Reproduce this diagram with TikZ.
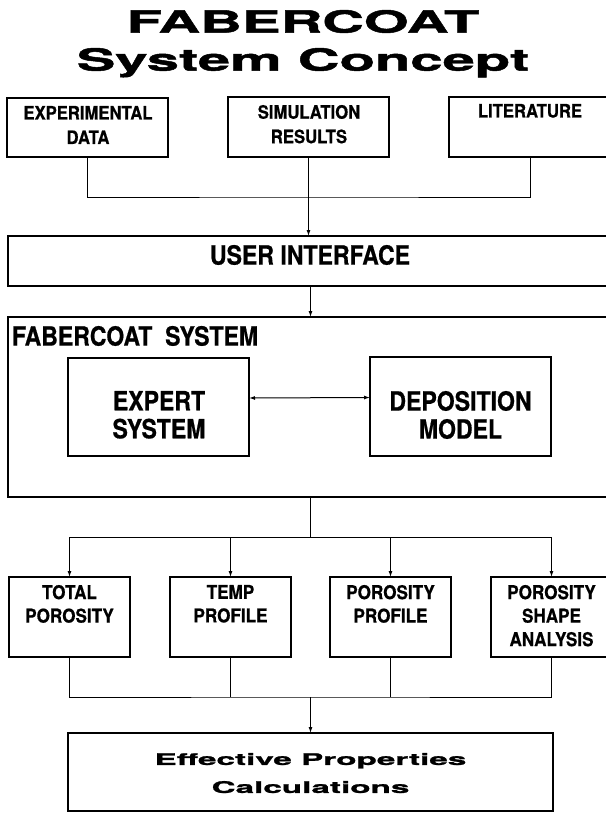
\documentclass[tikz,border=0pt]{standalone}
\usepackage{fontspec}
\usetikzlibrary{arrows.meta}
\newfontfamily\boxfont{TeX Gyre Heros}[FakeStretch=0.87, FakeBold=0.6]
\newfontfamily\smallfont{TeX Gyre Heros}[FakeStretch=0.9, FakeBold=0.6]
\newfontfamily\widefont{TeX Gyre Heros}[FakeStretch=1.9, FakeBold=1.6]
\newfontfamily\effont{TeX Gyre Heros}[FakeStretch=2.08, FakeBold=1.4]
\tikzset{
  box/.style={draw, line width=1.3pt, inner sep=0pt, outer sep=0pt, anchor=north west},
  lbl/.style={inner sep=0pt, outer sep=0pt, anchor=north, align=center},
  small/.style={lbl, font=\smallfont\bfseries\fontsize{18.5}{24.5}\selectfont},
  large/.style={lbl, font=\boxfont\bfseries\fontsize{26.5}{28}\selectfont},
  lowr/.style={lbl, font=\smallfont\bfseries\fontsize{19}{23.5}\selectfont},
  conn/.style={line width=1pt},
  arr/.style={conn, -{Latex[length=6pt,width=4pt]}},
  darr/.style={conn, {Latex[length=6pt,width=4pt]}-{Latex[length=6pt,width=4pt]}}
}
\begin{document}
\begin{tikzpicture}[x=1pt, y=-1pt]
\useasboundingbox (0,0) rectangle (605,813);
\fill[white] (0,0) rectangle (605,813);

% title
\node[lbl, font=\widefont\bfseries\fontsize{30.5}{38}\selectfont] (title) at (303,10) {FABERCOAT\\System Concept};

% sources
\node[box, minimum width=161pt, minimum height=59pt] (exp) at (7,98) {};
\node[box, minimum width=161pt, minimum height=60pt] (sim) at (228,97) {};
\node[box, minimum width=162pt, minimum height=60pt] (lit) at (449,97) {};
\node[small] (texp) at (88,106) {EXPERIMENTAL\\DATA};
\node[small] (tsim) at (309,105) {SIMULATION\\RESULTS};
\node[small] (tlit) at (530,104) {LITERATURE};

% user interface
\node[box, minimum width=605pt, minimum height=50pt] (ui) at (8,236) {};
\node[large] (tui) at (310,245) {USER INTERFACE};

% fabercoat system
\node[box, minimum width=605pt, minimum height=180pt] (sys) at (8,317) {};
\node[large, anchor=north west] (tsys) at (12,326) {FABERCOAT\ \ SYSTEM};
\node[box, minimum width=181pt, minimum height=98pt] (xp) at (68,358) {};
\node[box, minimum width=181pt, minimum height=99pt] (dep) at (370,357) {};
\node[large] (txp) at (159,391) {EXPERT\\SYSTEM};
\node[large] (tdep) at (460.5,391) {DEPOSITION\\MODEL};

% results
\node[box, minimum width=121pt, minimum height=80pt] (tot) at (9,577) {};
\node[box, minimum width=121pt, minimum height=80pt] (tmp) at (170,577) {};
\node[box, minimum width=121pt, minimum height=80pt] (pp) at (330,577) {};
\node[box, minimum width=121pt, minimum height=80pt] (shp) at (491,577) {};
\node[lowr] (ttot) at (69.5,585) {TOTAL\\POROSITY};
\node[lowr] (ttmp) at (230.5,585) {TEMP\\PROFILE};
\node[lowr] (tpp) at (390.5,585) {POROSITY\\PROFILE};
\node[lowr] (tshp) at (551.5,585) {POROSITY\\SHAPE\\ANALYSIS};

% effective properties
\node[box, minimum width=485pt, minimum height=78pt] (eff) at (68,733) {};
\node[lbl, font=\effont\bfseries\fontsize{16}{28}\selectfont] (teff) at (310.5,753) {Effective Properties\\Calculations};

% connectors
\coordinate (jt) at (309,197);
\coordinate (br) at (310.5,537);
\coordinate (bj) at (310.5,697);
\draw[conn] (exp.south) |- (jt) -| (lit.south);
\draw[arr] (sim.south) -- (sim.south |- ui.north);
\draw[arr] (ui.south) -- (sys.north);
\draw[darr] ([yshift=9pt]xp.east) -- ([yshift=9pt]dep.west);
\draw[conn] (sys.south) -- (br);
\draw[conn] (tot.north |- br) -- (shp.north |- br);
\draw[arr] (tot.north |- br) -- (tot.north);
\draw[arr] (tmp.north |- br) -- (tmp.north);
\draw[arr] (pp.north |- br) -- (pp.north);
\draw[arr] (shp.north |- br) -- (shp.north);
\draw[conn] (tot.south) |- (bj) -| (shp.south);
\draw[conn] (tmp.south) -- (tmp.south |- bj);
\draw[conn] (pp.south) -- (pp.south |- bj);
\draw[arr] (bj) -- (eff.north);
\end{tikzpicture}
\end{document}
